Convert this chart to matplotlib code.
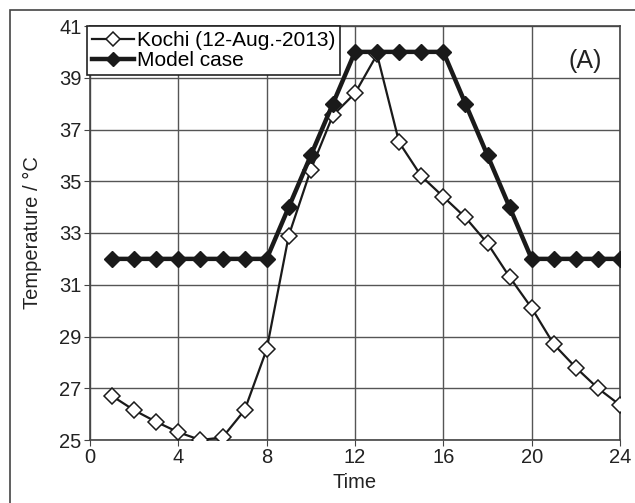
import matplotlib
matplotlib.use("Agg")
import matplotlib.pyplot as plt
from matplotlib.patches import Rectangle

plt.rcParams["font.family"] = ["Liberation Sans", "DejaVu Sans"]

hours = list(range(1, 25))
kochi = [26.7, 26.15, 25.7, 25.3, 25.0, 25.1, 26.15, 28.5, 32.9, 35.45, 37.55, 38.4,
         39.9, 36.5, 35.2, 34.4, 33.6, 32.6, 31.3, 30.1, 28.7, 27.8, 27.0, 26.35]
model = [32, 32, 32, 32, 32, 32, 32, 32, 34, 36, 38, 40,
         40, 40, 40, 40, 38, 36, 34, 32, 32, 32, 32, 32]
xticks = [0, 4, 8, 12, 16, 20, 24]
yticks = [25, 27, 29, 31, 33, 35, 37, 39, 41]

fig = plt.figure(figsize=(6.35, 5.03), dpi=100)
ax = fig.add_axes([90 / 635, 1 - 440 / 503, 530 / 635, 414 / 503])

# outer chart border (Excel style)
fig.patches.append(Rectangle((10 / 635, -0.1), 1.2, 1 - 10 / 503 + 0.1,
                             transform=fig.transFigure, fill=False,
                             edgecolor="#444444", lw=1.2))

ax.plot(hours, kochi, color="#1a1a1a", lw=1.6, marker="D", ms=8,
        mfc="white", mec="#1a1a1a", mew=1.1, label="Kochi (12-Aug.-2013)", zorder=3)
ax.plot(hours, model, color="#1a1a1a", lw=3.2, marker="D", ms=8,
        mfc="#1a1a1a", mec="#1a1a1a", label="Model case", zorder=4)

ax.set_xlim(0, 24)
ax.set_ylim(25, 41)
ax.set_xticks(xticks)
ax.set_yticks(yticks)
ax.grid(color="#555555", lw=1.0)
ax.set_axisbelow(True)
for s in ax.spines.values():
    s.set_color("#444444")
    s.set_linewidth(1.2)
ax.tick_params(labelsize=14.5, length=4, color="#444444", pad=2, labelcolor="#222222")
ax.set_xlabel("Time", fontsize=14.5, color="#222222", labelpad=4)
ax.set_ylabel("Temperature / \u00b0C", fontsize=14.5, color="#222222", labelpad=12)

leg = ax.legend(loc="upper left", bbox_to_anchor=(-0.006, 1.0), fontsize=15,
                frameon=True, fancybox=False, framealpha=1, edgecolor="#222222",
                handlelength=2.0, handletextpad=0.15, borderpad=0.25,
                labelspacing=0.05, borderaxespad=0, markerscale=0.9)
leg.get_frame().set_linewidth(1.2)

ax.text(0.965, 0.915, "(A)", transform=ax.transAxes, fontsize=18,
        ha="right", va="center", color="#222222")

fig.savefig("out.png", dpi=100)
